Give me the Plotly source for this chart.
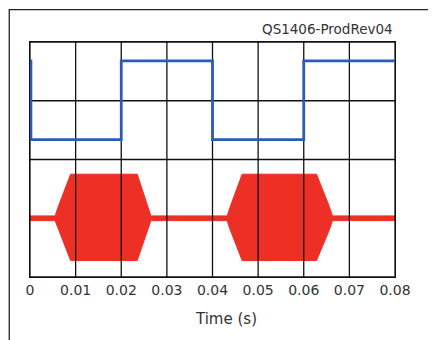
import plotly.graph_objects as go

# ---- data ----
x_ticks = [0, 0.01, 0.02, 0.03, 0.04, 0.05, 0.06, 0.07, 0.08]
x_tick_labels = ["0", "0.01", "0.02", "0.03", "0.04", "0.05", "0.06", "0.07", "0.08"]
y_grid = [0, 2, 3, 4]

# blue digital control signal (step, "hv")
ctrl_t = [0, 0.0002, 0.02, 0.04, 0.06, 0.08]
ctrl_v = [3.68, 2.34, 3.68, 2.34, 3.68, 3.68]

# red burst envelope
burst_t = [0, 0.0055, 0.0062, 0.0089, 0.0235, 0.0258, 0.0265,
           0.0432, 0.0439, 0.0465, 0.0628, 0.0656, 0.0663, 0.08]
env_upper = [1.04, 1.04, 1.2, 1.75, 1.75, 1.2, 1.04,
             1.04, 1.2, 1.75, 1.75, 1.2, 1.04, 1.04]
env_lower = [0.96, 0.96, 0.8, 0.28, 0.28, 0.8, 0.96,
             0.96, 0.8, 0.28, 0.28, 0.8, 0.96, 0.96]

BLUE = "#2b5cb3"
RED = "#ee2f25"
FONT = "DejaVu Sans"

fig = go.Figure()

# red burst as a filled envelope
fig.add_trace(go.Scatter(
    x=burst_t + burst_t[::-1],
    y=env_upper + env_lower[::-1],
    fill="toself", fillcolor=RED, mode="lines",
    line=dict(color=RED, width=1), hoverinfo="skip", showlegend=False,
))

# grid lines (built from the tick arrays)
gx, gy = [], []
for t in x_ticks:
    gx += [t, t, None]
    gy += [y_grid[0], y_grid[-1], None]
for v in y_grid:
    gx += [x_ticks[0], x_ticks[-1], None]
    gy += [v, v, None]
fig.add_trace(go.Scatter(x=gx, y=gy, mode="lines", line=dict(color="#111", width=1.3),
                         hoverinfo="skip", showlegend=False, cliponaxis=False))

# blue step signal
fig.add_trace(go.Scatter(
    x=ctrl_t, y=ctrl_v, mode="lines", line=dict(color=BLUE, width=2.8, shape="hv"),
    hoverinfo="skip", showlegend=False, cliponaxis=False,
))

fig.update_xaxes(
    range=[0, 0.08], tickvals=x_ticks, ticktext=x_tick_labels, showgrid=False,
    zeroline=False, showline=True, mirror=True, linecolor="#111", linewidth=1.3,
    ticks="", tickfont=dict(family=FONT, size=14, color="#333"),
)
fig.update_yaxes(
    range=[0, 4], showticklabels=False, showgrid=False, zeroline=False,
    showline=True, mirror=True, linecolor="#111", linewidth=1.3, ticks="",
)

fig.add_annotation(text="Time (s)", xref="paper", yref="paper", x=0.537, y=-0.179,
                   xanchor="center", yanchor="middle", showarrow=False,
                   font=dict(family=FONT, size=15, color="#333"))
fig.add_annotation(text="QS1406-ProdRev04", xref="paper", yref="paper", x=1.0, y=1.055,
                   xanchor="right", yanchor="middle", showarrow=False,
                   font=dict(family=FONT, size=13.5, color="#333"))

# outer frame
fig.add_shape(type="rect", xref="paper", yref="paper", x0=-0.0568, y0=-0.5, x1=1.5, y1=1.138,
              line=dict(color="#222", width=1.3), layer="below")

fig.update_layout(
    width=428, height=332, margin=dict(l=21.5, r=40.5, t=34, b=63),
    paper_bgcolor="white", plot_bgcolor="white",
)
fig.write_html("out.html")
